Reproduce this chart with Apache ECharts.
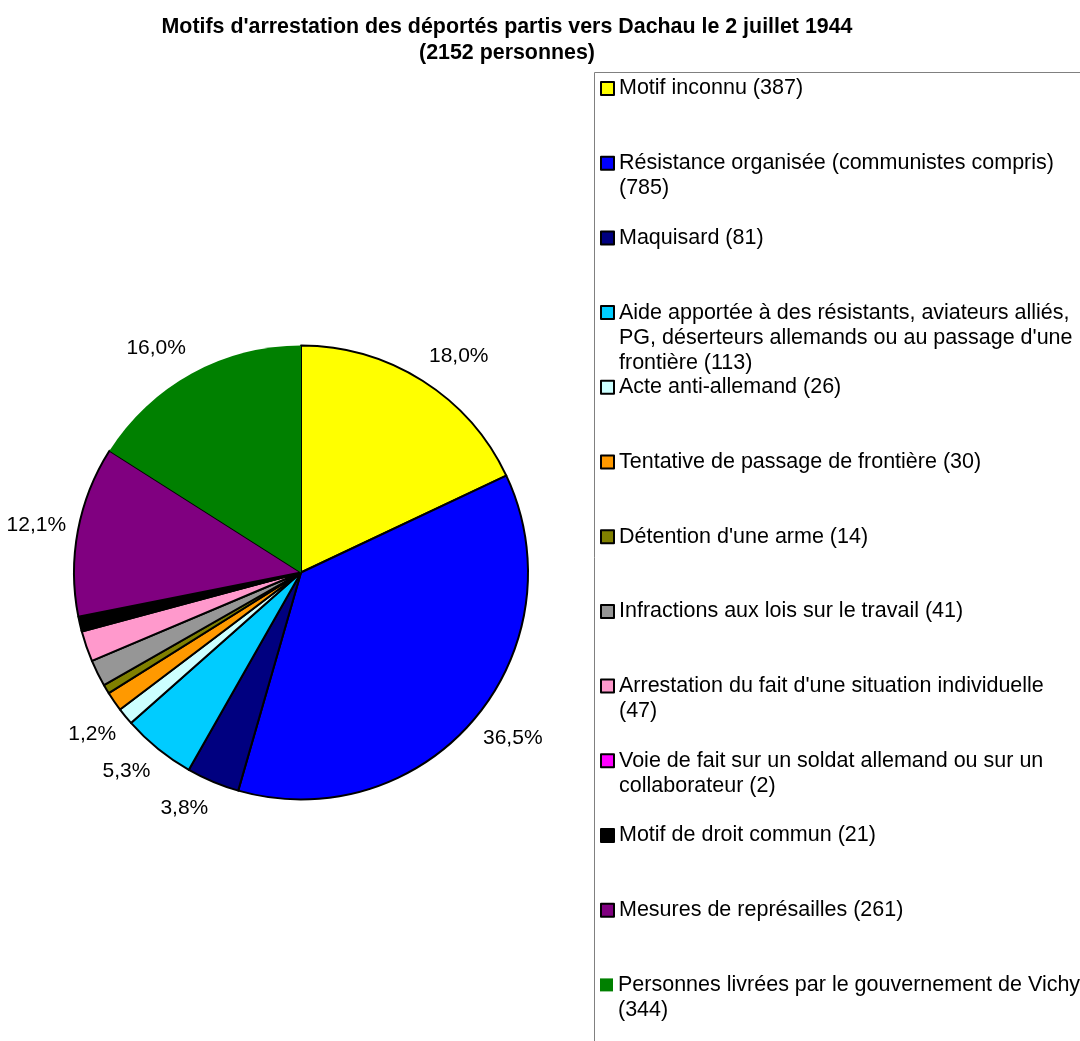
<!DOCTYPE html>
<html>
<head>
<meta charset="utf-8">
<script src="https://cdn.jsdelivr.net/npm/echarts@6/dist/echarts.min.js"></script>
<style>
  html, body { margin: 0; padding: 0; background: #fff; }
  #chart { width: 1080px; height: 1041px; }
</style>
</head>
<body>
<div id="chart"></div>
<script>
// Motifs d'arrestation - convoi du 2 juillet 1944
const titleText = "Motifs d'arrestation des déportés partis vers Dachau le 2 juillet 1944\n(2152 personnes)";

const categories = [
  'Motif inconnu (387)',
  'Résistance organisée (communistes compris)\n(785)',
  'Maquisard (81)',
  'Aide apportée à des résistants, aviateurs alliés,\nPG, déserteurs allemands ou au passage d\'une\nfrontière (113)',
  'Acte anti-allemand (26)',
  'Tentative de passage de frontière (30)',
  'Détention d\'une arme (14)',
  'Infractions aux lois sur le travail (41)',
  'Arrestation du fait d\'une situation individuelle\n(47)',
  'Voie de fait sur un soldat allemand ou sur un\ncollaborateur (2)',
  'Motif de droit commun (21)',
  'Mesures de représailles (261)',
  'Personnes livrées par le gouvernement de Vichy\n(344)'
];
const values = [387, 785, 81, 113, 26, 30, 14, 41, 47, 2, 21, 261, 344];
// which slices carry a percentage label in the original
const labelShown = [true, true, true, true, true, false, false, false, false, false, false, true, true];
const colors = ['#ffff00', '#0000ff', '#000080', '#00ccff', '#ccffff', '#ff9900',
  '#808000', '#969696', '#ff99cc', '#ff00ff', '#000000', '#800080', '#008000'];

const CX = 301, CY = 572.5, R = 227;
const total = values.reduce((a, b) => a + b, 0);

function midAngle(i) {
  let before = 0;
  for (let k = 0; k < i; k++) before += values[k];
  return (before + values[i] / 2) / total * Math.PI * 2;
}

const chart = echarts.init(document.getElementById('chart'));

const FONT = 'Liberation Sans, Arial, sans-serif';
const LH = 25;
const last = categories.length - 1;

// one legend per item so the first lines sit on an even grid;
// blank lines in front keep the swatch level with the first line
const legends = categories.map(function (name, i) {
  const n = name.split('\n').length;
  const h = (2 * n - 1) * LH;
  const firstLineY = 88.5 + i * 74.7;
  return {
    data: [name],
    orient: 'vertical',
    left: 600,
    top: firstLineY - h / 2,
    padding: 0,
    itemWidth: 13,
    itemHeight: 13,
    icon: 'rect',
    selectedMode: false,
    itemStyle: {
      borderColor: '#000',
      borderWidth: i === last ? 0 : 2
    },
    formatter: function (t) {
      return '\n'.repeat(n - 1) + t;
    },
    textStyle: {
      color: '#000',
      fontFamily: FONT,
      fontSize: 21.5,
      lineHeight: LH
    }
  };
});

chart.setOption({
  backgroundColor: '#fff',
  animation: false,
  title: {
    text: titleText,
    left: 507,
    top: 14,
    padding: 0,
    textAlign: 'center',
    textStyle: {
      fontFamily: FONT,
      fontSize: 21.4,
      fontWeight: 'bold',
      lineHeight: 26,
      color: '#000'
    }
  },
  legend: legends,
  graphic: [{
    type: 'rect',
    shape: { x: 594.5, y: 72.5, width: 600, height: 1000 },
    style: { fill: 'none', stroke: '#808080', lineWidth: 1 },
    silent: true
  }],
  series: [{
    type: 'pie',
    center: [CX, CY],
    radius: R,
    startAngle: 90,
    clockwise: true,
    avoidLabelOverlap: false,
    data: categories.map(function (name, i) {
      return {
        name: name,
        value: values[i],
        itemStyle: {
          color: colors[i],
          borderColor: '#000',
          borderWidth: i === last ? 0 : 2
        },
        label: { show: labelShown[i] }
      };
    }),
    label: {
      position: 'outside',
      color: '#000',
      fontFamily: FONT,
      fontSize: 21,
      formatter: function (p) {
        return (p.value / total * 100).toFixed(1).replace('.', ',') + '%';
      }
    },
    labelLine: { show: false },
    labelLayout: function (p) {
      const a = midAngle(p.dataIndex);
      const dx = Math.sin(a), dy = -Math.cos(a);
      return {
        x: CX + dx * (R + 12),
        y: CY + dy * (R + 29),
        align: dx < 0 ? 'right' : 'left',
        verticalAlign: 'middle'
      };
    },
    emphasis: { disabled: true }
  }]
});
</script>
</body>
</html>
